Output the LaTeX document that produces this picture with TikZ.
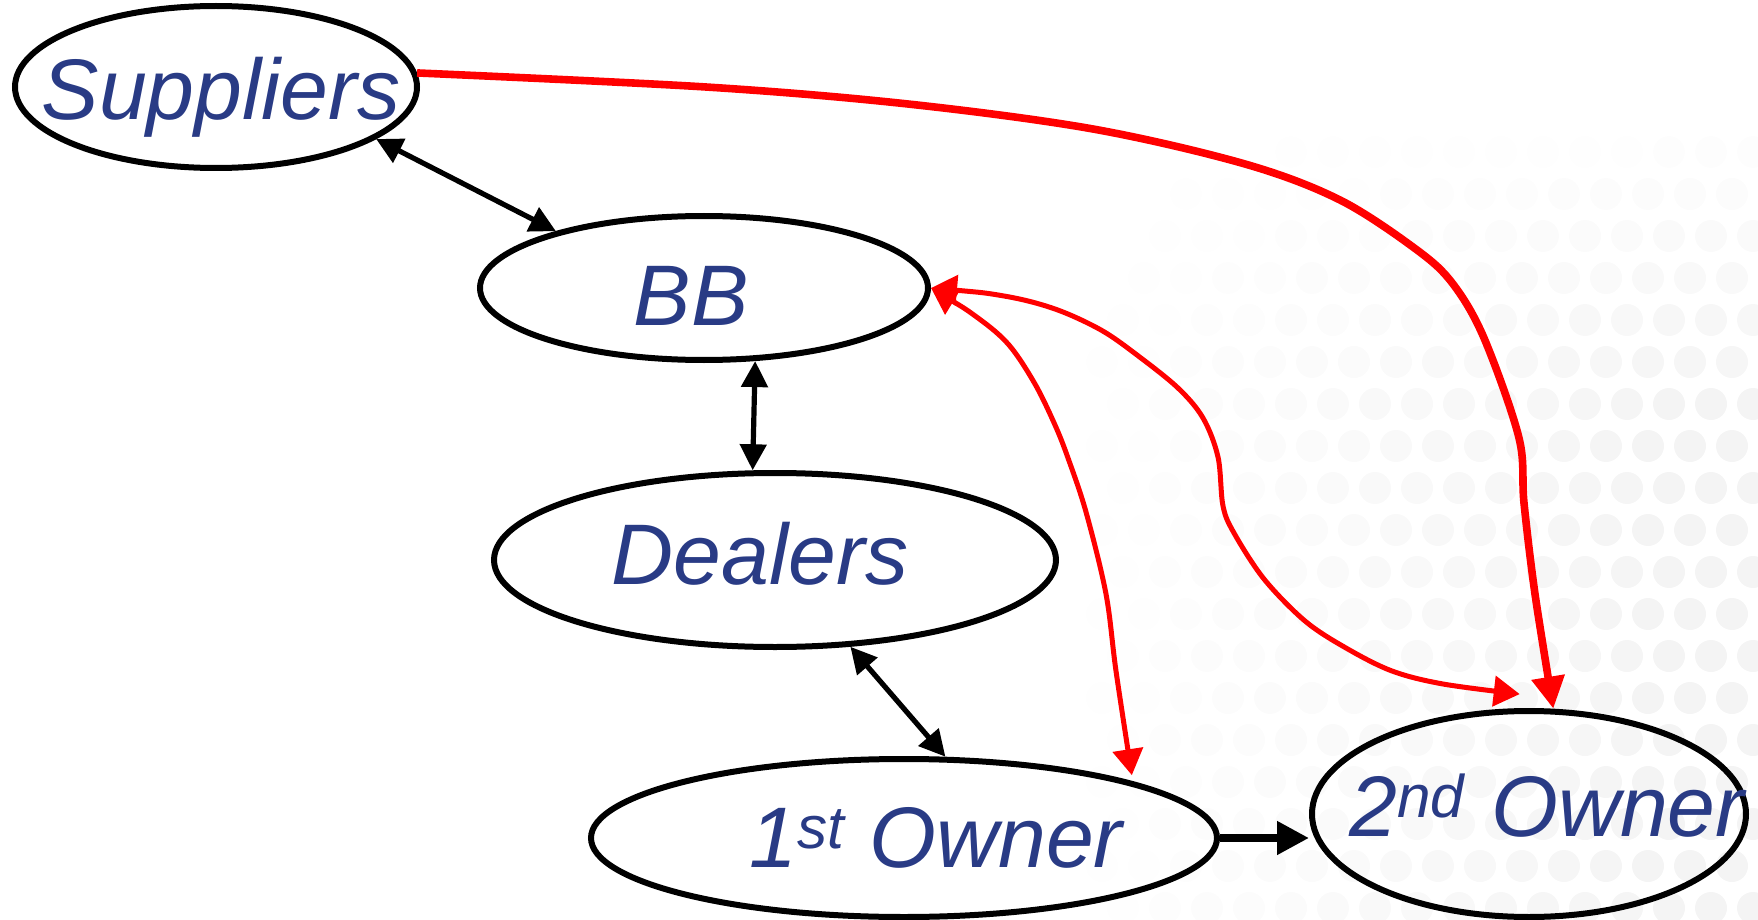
\documentclass[tikz,border=0pt]{standalone}
\usepackage{fontspec}
\setmainfont{Liberation Sans}
\usetikzlibrary{arrows.meta,shapes.geometric}
\definecolor{txtblue}{RGB}{41,59,133}
\definecolor{arrred}{RGB}{255,0,0}
\begin{document}
\begin{tikzpicture}[x=0.5pt,y=-0.5pt,
  ell/.style={ellipse, draw=black, line width=3pt, inner sep=0pt},
  lbl/.style={text=txtblue, font=\fontsize{43}{50}\selectfont\itshape, anchor=base, inner sep=0pt},
  blk/.style={line width=2.6pt, {Triangle[length=13pt,width=13pt]}-{Triangle[length=13pt,width=13pt]}},
  blkthick/.style={line width=3.8pt, -{Triangle[length=16pt,width=16pt]}},
  redthick/.style={draw=arrred, line width=3.8pt, -{Triangle[length=16pt,width=16pt]}},
  redthin/.style={draw=arrred, line width=2.5pt, {Triangle[length=13pt,width=15pt]}-{Triangle[length=13pt,width=15pt]}},
  dot/.style={fill=black!5}
]
\useasboundingbox (0,0) rectangle (1758,920);
% faint dotted background texture
\foreach \j in {0,...,19}{
  \foreach \i in {0,...,17}{
    \pgfmathsetmacro\xx{1060+\i*42+mod(\j,2)*21}
    \pgfmathsetmacro\yy{110+\j*42}
    \pgfmathsetmacro\op{0.85*max(0,min(1,(\xx-1060)/620))*max(0,min(1,(\yy-110)/300))}
    \fill[dot, opacity=\op] (\xx,\yy) circle[radius=8pt];
  }
}
% ellipses
\node[ell, minimum width=201pt, minimum height=81pt] (sup) at (216,87) {};
\node[ell, minimum width=224pt, minimum height=72pt] (bb) at (704,288) {};
\node[ell, minimum width=281pt, minimum height=87pt] (dl) at (775,560) {};
\node[ell, minimum width=313pt, minimum height=79pt] (o1) at (904,838) {};
\node[ell, minimum width=217pt, minimum height=103pt] (o2) at (1529,814) {};
% labels
\node[lbl] (supt) at (221,120) {Suppliers};
\node[lbl] (bbt) at (691,325) {BB};
\node[lbl] (dlt) at (760,584) {Dealers};
\node[lbl] (o1t) at (936,867) {1\textsuperscript{st}\hspace{0.28em}Owner};
\node[lbl] (o2t) at (1547,836) {2\textsuperscript{nd}\hspace{0.3em}Owner};
% black connectors
\draw[blk] (sup.-18.3) -- (bb.159.5);
\draw[blk] (bb.-55.7) -- (dl.104.2);
\draw[blk] (dl.-49.6) -- (o1.63.1);
\draw[blkthick] (o1.east) -- (o1.east -| o2.west);
% red connectors
\draw[redthick] plot[smooth, tension=0.55] coordinates {(sup.4.3) (706,87) (908,104) (1093,129) (1245,164) (1340,200) (1417,250) (1453,284) (1484,338) (1519,438) (1524,503) (1535,594) (o2.77)};
\draw[redthin] plot[smooth, tension=0.55] coordinates {(bb.east) (978,318) (1009,345) (1035,384) (1055,425) (1068,458) (1086,512) (1106,594) (1116,671) ([yshift=3pt]o1.14)};
\draw[redthin] plot[smooth, tension=0.55] coordinates {(bb.east) (1004,296) (1055,309) (1101,330) (1137,355) (1178,388) (1203,418) (1218,457) (1223,506) (1234,533) (1264,579) (1305,621) (1346,648) (1392,671) (1443,684) ([yshift=7pt]o2.95)};
\end{tikzpicture}
\end{document}
